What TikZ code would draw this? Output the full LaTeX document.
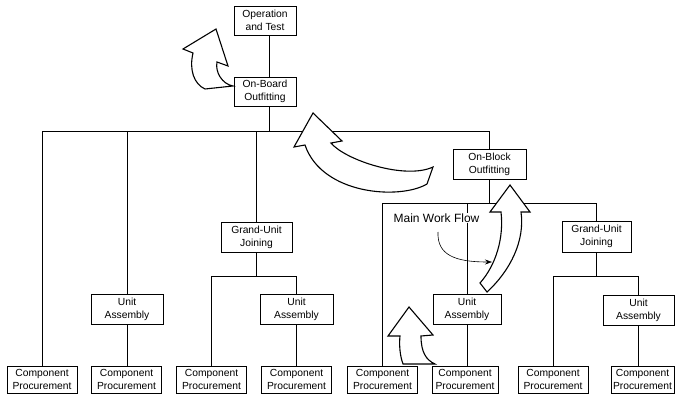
\documentclass[tikz,border=0pt]{standalone}
\usepackage{fontspec}
\setmainfont{Liberation Sans}
\usetikzlibrary{arrows.meta}
\begin{document}
\begin{tikzpicture}[x=1pt,y=-1pt,
 box/.style={draw, line width=0.7pt, align=center, inner sep=0pt, fill=white, font=\fontsize{10.3}{13}\selectfont},
 cp/.style={box, minimum width=70pt, minimum height=27pt},
 ua/.style={box, minimum height=30pt},
 link/.style={line width=0.6pt},
 bigarrow/.style={draw, fill=white, line width=1.1pt, line join=miter},
 lbl/.style={fill=white, inner sep=1pt, font=\fontsize{12}{14}\selectfont}]
\useasboundingbox (0,0) rectangle (675,401);
% nodes
\node[box, minimum width=62pt, minimum height=29pt] (op) at (265,20.5) {Operation\\and Test};
\node[box, minimum width=62pt, minimum height=29pt] (ob) at (265,91.5) {On-Board\\Outfitting};
\node[box, minimum width=73pt, minimum height=30pt] (onblock) at (489.5,164) {On-Block\\Outfitting};
\node[box, minimum width=71pt, minimum height=30pt] (gu1) at (256.5,237) {Grand-Unit\\Joining};
\node[box, minimum width=69pt, minimum height=31pt] (gu2) at (596.5,236.5) {Grand-Unit\\Joining};
\node[ua, minimum width=72pt] (ua1) at (127,309) {Unit\\Assembly};
\node[ua, minimum width=73pt] (ua2) at (296.5,309) {Unit\\Assembly};
\node[ua, minimum width=68pt] (ua3) at (467,309) {Unit\\Assembly};
\node[ua, minimum width=71pt] (ua4) at (638.5,310) {Unit\\Assembly};
\node[cp] (c1) at (42,379.5) {Component\\Procurement};
\node[cp] (c2) at (126.5,379.5) {Component\\Procurement};
\node[cp] (c3) at (211.5,379.5) {Component\\Procurement};
\node[cp] (c4) at (296.5,379.5) {Component\\Procurement};
\node[cp] (c5) at (382.5,379.5) {Component\\Procurement};
\node[cp, minimum width=66pt] (c6) at (465,379.5) {Component\\Procurement};
\node[cp] (c7) at (553,379.5) {Component\\Procurement};
\node[cp, minimum width=63pt] (c8) at (642.5,379.5) {Component\\Procurement};
% bus levels
\coordinate (b1) at (0,131);
\coordinate (b2) at (0,276);
\coordinate (b3) at (0,203);
% connectors
\draw[link] ([xshift=4pt]op.south) -- ([xshift=4pt]ob.north);
\draw[link] ([xshift=4pt]ob.south) -- ([xshift=4pt]ob.south |- b1);
\draw[link] (c1.north) |- (onblock.north |- b1) -- (onblock.north);
\draw[link] (ua1.north) -- (ua1.north |- b1);
\draw[link] (gu1.north) -- (gu1.north |- b1);
\draw[link] (ua1.south) -- (ua1.south |- c2.north);
\draw[link] (gu1.south) -- (gu1.south |- b2);
\draw[link] (c3.north) |- (ua2.north |- b2) -- (ua2.north);
\draw[link] (ua2.south) -- (c4.north);
\draw[link] (onblock.south) -- (onblock.south |- b3);
\draw[link] (c5.north) |- (gu2.north |- b3) -- (gu2.north);
\draw[link] (ua3.north) -- (ua3.north |- b3);
\draw[link] (ua3.south) -- (ua3.south |- c6.north);
\draw[link] (gu2.south) -- (gu2.south |- b2);
\draw[link] (c7.north) |- (ua4.north |- b2) -- (ua4.north);
\draw[link] (ua4.south) -- (ua4.south |- c8.north);
% big hollow arrows
\draw[bigarrow] (216,29) -- (228,66) -- (217,62)
  .. controls (215,72) and (222,84) .. (233,86) -- (205,89)
  .. controls (194,84) and (189,70) .. (193,53) -- (183,49) -- cycle;
\draw[bigarrow] (313,113) -- (342,141) -- (331,143)
  .. controls (345,160) and (405,180) .. (433,167) -- (427,184)
  .. controls (400,200) and (322,195) .. (305,145) -- (294,147) -- cycle;
\draw[bigarrow] (510,185) -- (530,212) -- (521,212)
  .. controls (525,240) and (511,270) .. (487,292) -- (480,283)
  .. controls (496,265) and (504,238) .. (501,212) -- (490,212) -- cycle;
\draw[bigarrow] (409,307) -- (433,335) -- (421,336)
  .. controls (421,352) and (426,360) .. (435,364) -- (403,364)
  .. controls (400,356) and (399,345) .. (400,336) -- (388,336) -- cycle;
% label and leader
\node[lbl] (mwf) at (436.5,218) {Main Work Flow};
\coordinate (mwfend) at (492,262);
\draw[link, -{Stealth[length=7pt,width=5pt]}] (438,232) .. controls (437,255) and (455,262) .. (mwfend);
\end{tikzpicture}
\end{document}
